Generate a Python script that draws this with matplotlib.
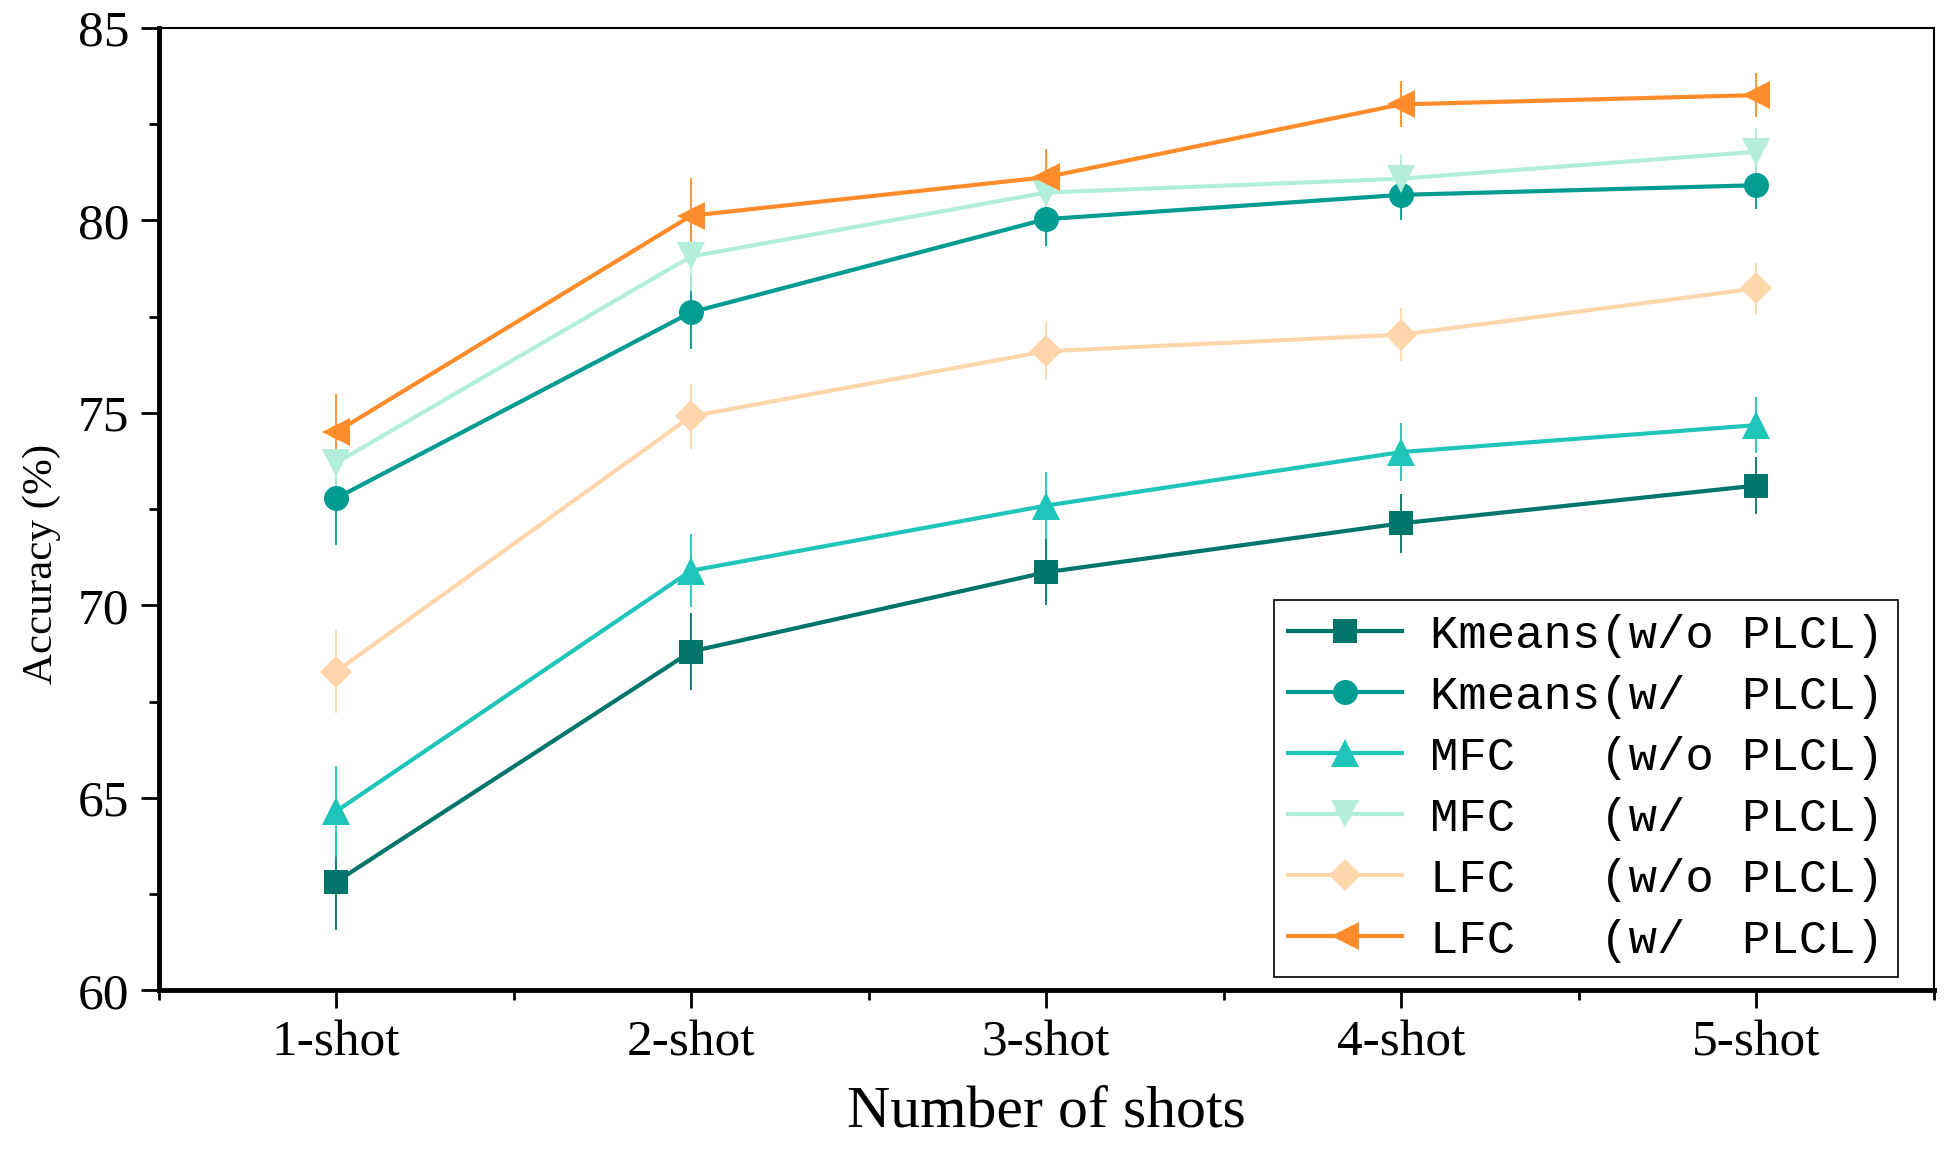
import matplotlib.pyplot as plt
import numpy as np

shots = ["1-shot", "2-shot", "3-shot", "4-shot", "5-shot"]

kmeans_wo = [62.82, 68.80, 70.86, 72.13, 73.11]
kmeans_wo_err = [1.25, 0.99, 0.85, 0.76, 0.74]
kmeans_w = [72.78, 77.61, 80.03, 80.66, 80.91]
kmeans_w_err = [1.20, 0.96, 0.71, 0.64, 0.62]
mfc_wo = [64.65, 70.90, 72.59, 73.98, 74.68]
mfc_wo_err = [1.19, 0.95, 0.87, 0.76, 0.73]
mfc_w = [73.70, 79.06, 80.72, 81.08, 81.78]
mfc_w_err = [1.20, 0.90, 0.70, 0.65, 0.61]
lfc_wo = [68.28, 74.91, 76.60, 77.03, 78.23]
lfc_wo_err = [1.08, 0.84, 0.76, 0.68, 0.67]
lfc_w = [74.50, 80.12, 81.12, 83.01, 83.25]
lfc_w_err = [1.00, 0.98, 0.74, 0.60, 0.57]

series = [
    ("Kmeans(w/o PLCL)", kmeans_wo, kmeans_wo_err, "#00756a", "s", 17),
    ("Kmeans(w/  PLCL)", kmeans_w, kmeans_w_err, "#009b91", "o", 18),
    ("MFC   (w/o PLCL)", mfc_wo, mfc_wo_err, "#20c5b9", "^", 20),
    ("MFC   (w/  PLCL)", mfc_w, mfc_w_err, "#b3eedc", "v", 20),
    ("LFC   (w/o PLCL)", lfc_wo, lfc_wo_err, "#ffd5ab", "D", 16),
    ("LFC   (w/  PLCL)", lfc_w, lfc_w_err, "#ff8c2a", "<", 20),
]

plt.rcParams["font.family"] = ["Liberation Serif", "DejaVu Serif"]

fig = plt.figure(figsize=(19.58, 11.57), dpi=100)
ax = fig.add_axes([0.081, 0.144, 0.9065, 0.832])

x = np.arange(1, len(shots) + 1)
handles = []
for label, vals, err, color, marker, ms in series:
    cont = ax.errorbar(x, vals, yerr=err, color=color, marker=marker, markersize=ms,
                       linewidth=3, elinewidth=1.3, capsize=12, capthick=1.3,
                       markeredgewidth=0, label=label)
    handles.append(cont.lines[0])

ax.set_xlim(0.5, 5.5)
ax.set_ylim(60, 85)
ax.set_xticks(x)
ax.set_xticklabels(shots)
ax.set_xticks(np.arange(0.5, 5.6, 1.0), minor=True)
ax.set_yticks(np.arange(60, 86, 5))
ax.set_yticks(np.arange(62.5, 85, 5), minor=True)
ax.tick_params(axis="both", which="major", direction="out", length=13, width=2,
               labelsize=37, pad=8)
ax.tick_params(axis="both", which="minor", direction="out", length=7, width=2)

for side in ["left", "bottom"]:
    ax.spines[side].set_linewidth(3.5)
for side in ["top", "right"]:
    ax.spines[side].set_linewidth(1.5)

ax.set_xlabel("Number of shots", fontsize=43, labelpad=14)
ax.set_ylabel("Accuracy (%)", fontsize=31)
ax.yaxis.set_label_coords(-0.055, 0.443)

leg = ax.legend(handles=handles, labels=[s[0] for s in series],
                loc="lower right", bbox_to_anchor=(0.980, 0.014),
                borderaxespad=0,
                prop={"family": "Liberation Mono", "size": 34},
                handlelength=2.4, handletextpad=0.6, labelspacing=0.36,
                borderpad=0.3, fancybox=False, framealpha=1, edgecolor="black")
leg.get_frame().set_linewidth(1.2)

fig.savefig("out.png", dpi=100)
